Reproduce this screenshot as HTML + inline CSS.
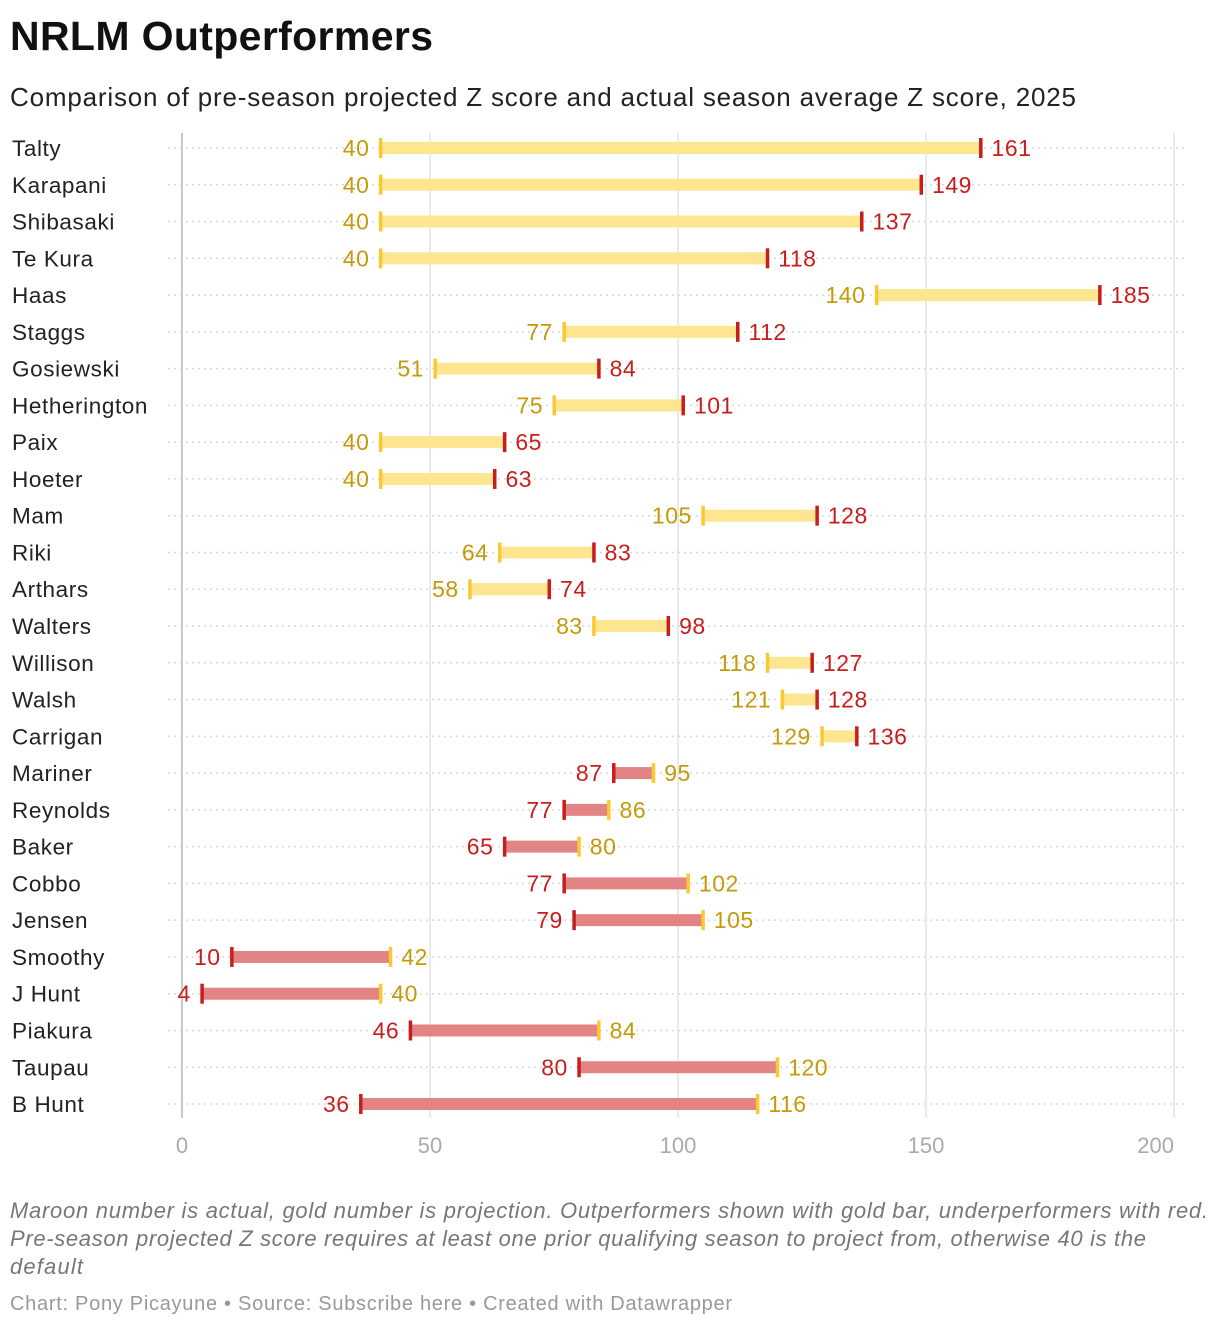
<!DOCTYPE html>
<html><head><meta charset="utf-8"><style>
body{margin:0;background:#fff;width:1220px;height:1326px;overflow:hidden;font-family:"Liberation Sans",sans-serif;}
</style></head><body>
<svg width="1220" height="1326" xmlns="http://www.w3.org/2000/svg">
<text x="10" y="50" font-size="41" font-weight="bold" fill="#111" textLength="423">NRLM Outperformers</text>
<text x="10" y="106" font-size="26" fill="#222" textLength="1066">Comparison of pre-season projected Z score and actual season average Z score, 2025</text>
<g id="grid"></g>
<g id="rows"></g>
<g id="xticks"></g>
<text x="10" y="1218" font-size="22" font-style="italic" fill="#777" textLength="1198">Maroon number is actual, gold number is projection. Outperformers shown with gold bar, underperformers with red.</text>
<text x="10" y="1246" font-size="22" font-style="italic" fill="#777" textLength="1136">Pre-season projected Z score requires at least one prior qualifying season to project from, otherwise 40 is the</text>
<text x="10" y="1274" font-size="22" font-style="italic" fill="#777" textLength="73">default</text>
<text x="10" y="1310" font-size="20" fill="#999" textLength="722">Chart: Pony Picayune • Source: Subscribe here • Created with Datawrapper</text>
</svg>
<script>
const names=["Talty","Karapani","Shibasaki","Te Kura","Haas","Staggs","Gosiewski","Hetherington","Paix","Hoeter","Mam","Riki","Arthars","Walters","Willison","Walsh","Carrigan","Mariner","Reynolds","Baker","Cobbo","Jensen","Smoothy","J Hunt","Piakura","Taupau","B Hunt"];
const projected=[40,40,40,40,140,77,51,75,40,40,105,64,58,83,118,121,129,95,86,80,102,105,42,40,84,120,116];
const actual=[161,149,137,118,185,112,84,101,65,63,128,83,74,98,127,128,136,87,77,65,77,79,10,4,46,80,36];
const ticks=[0,50,100,150,200];
const NS="http://www.w3.org/2000/svg";
const x=v=>182+v*4.96;
const y=i=>148+i*36.77;
function mk(t,a,p){const e=document.createElementNS(NS,t);for(const k in a)e.setAttribute(k,a[k]);p.appendChild(e);return e;}
const grid=document.getElementById('grid'),rows=document.getElementById('rows'),xt=document.getElementById('xticks');
ticks.forEach((t,k)=>{
 const l=mk('line',{x1:x(t),x2:x(t),y1:133,y2:1118,stroke:t===0?'#c8c8c8':'#e3e3e3','stroke-width':t===0?2:1.5},grid);
 
 
 const last=k===ticks.length-1;
 const tx=mk('text',{x:last?x(t):x(t),y:1153,'font-size':22,fill:'#aaa','text-anchor':last?'end':'middle'},xt);
 tx.textContent=t;
 
 
});
names.forEach((n,i)=>{
 const yy=y(i),p=projected[i],a=actual[i],up=a>=p;
 const g=mk('g',{},rows);
 
 
 mk('line',{x1:168,x2:1188,y1:yy,y2:yy,stroke:'#d8d8d8','stroke-width':1.5,'stroke-dasharray':'2,4'},g);
 const nm=mk('text',{x:12,y:yy+8,'font-size':22.5,fill:'#222','letter-spacing':'0.6'},g);nm.textContent=n;
 
 
 const lo=Math.min(p,a),hi=Math.max(p,a);
 const b=mk('rect',{x:x(lo),y:yy-6,width:x(hi)-x(lo),height:12,fill:up?'#fee58f':'#e38484'},g);
 
 
 const tp=mk('rect',{x:x(p)-1.5,y:yy-10,width:3.5,height:20,fill:'#fcc832'},g);
 
 
 const ta=mk('rect',{x:x(a)-1.5,y:yy-10,width:3.5,height:20,fill:'#c71e1d'},g);
 
 
 const pl=mk('text',{x:up?x(p)-11:x(p)+11,y:yy+8,'font-size':23,fill:'#c49a0b','text-anchor':up?'end':'start','letter-spacing':'0.5'},g);pl.textContent=p;
 
 
 const al=mk('text',{x:up?x(a)+11:x(a)-11,y:yy+8,'font-size':23,fill:'#c71e1d','text-anchor':up?'start':'end','letter-spacing':'0.5'},g);al.textContent=a;
 
 
});
</script>
</body></html>
